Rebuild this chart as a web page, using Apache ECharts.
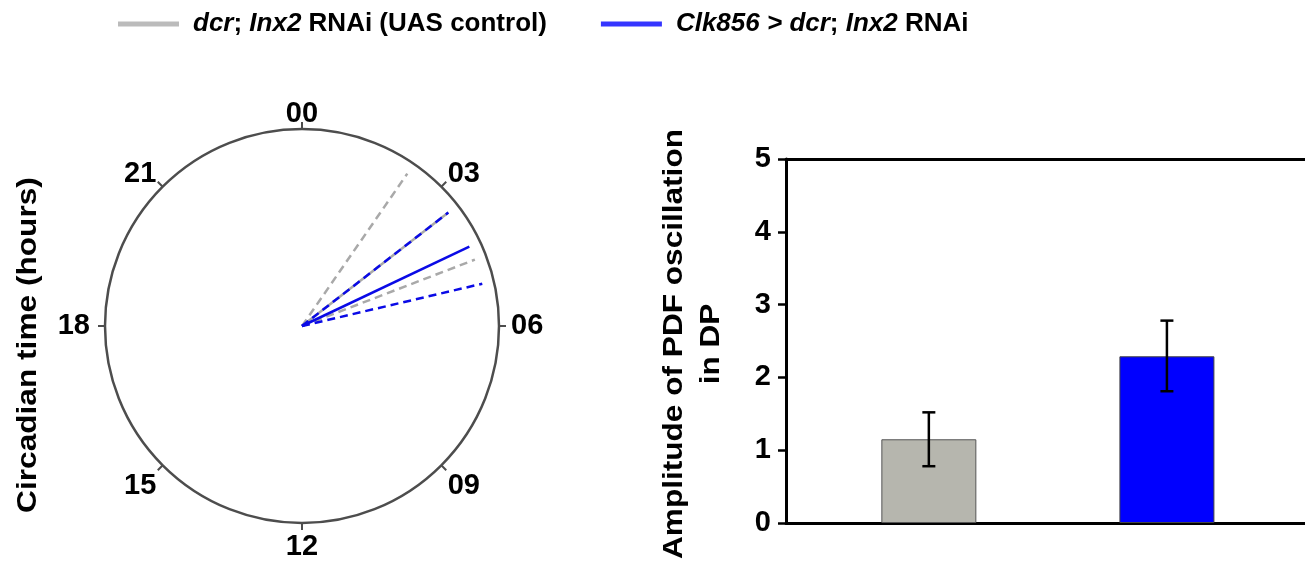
<!DOCTYPE html>
<html>
<head>
<meta charset="utf-8">
<script src="https://cdn.jsdelivr.net/npm/echarts@6/dist/echarts.min.js"></script>
<style>
html, body { margin: 0; padding: 0; background: #fff; }
#main { width: 1305px; height: 564px; }
</style>
</head>
<body>
<div id="main"></div>
<script>
var myChart = echarts.init(document.getElementById('main'));

// circadian phases (hours), left panel
var ctrlPhase = 3.48;
var ctrlBounds = [2.31, 4.6];
var expPhase = 4.31;
var expBounds = [3.48, 5.12];
var vecLength = 0.94;

// amplitude, right panel
var groupNames = ['dcr; Inx2 RNAi (UAS control)', 'Clk856 > dcr; Inx2 RNAi'];
var groupX = [1, 2];
var amplitude = [1.15, 2.29];
var ampLow = [0.78, 1.81];
var ampHigh = [1.52, 2.78];

var fontFam = '"Liberation Sans", Arial, sans-serif';
var hourFont = { fontSize: 29, fontWeight: 'bold', color: '#000', fontFamily: fontFam };

function vec(name, phase, color, dashed) {
    return {
        name: name,
        type: 'line',
        coordinateSystem: 'polar',
        polarIndex: 0,
        symbol: 'none',
        silent: true,
        data: [[0, phase], [vecLength, phase]],
        lineStyle: {
            color: color,
            width: 2.5,
            type: dashed ? [8, 5] : 'solid'
        }
    };
}

option = {
    backgroundColor: '#fff',
    animation: false,
    textStyle: { fontFamily: fontFam },
    legend: {
        left: 113,
        top: 6,
        itemWidth: 61,
        itemHeight: 5,
        itemGap: 54,
        icon: 'rect',
        data: [
            { name: groupNames[0], itemStyle: { color: '#bbbbbb', borderWidth: 0 } },
            { name: groupNames[1], itemStyle: { color: '#3535ff', borderWidth: 0 } }
        ],
        formatter: function (name) {
            if (name === groupNames[0]) {
                return '{i|dcr}{n|; }{i|Inx2}{n| RNAi (UAS control)}';
            }
            return '{i|Clk856 > dcr}{n|; }{i|Inx2}{n| RNAi}';
        },
        textStyle: {
            padding: [0, 0, 0, 9],
            rich: {
                i: { fontSize: 26, fontWeight: 'bold', fontStyle: 'italic', color: '#000', fontFamily: fontFam },
                n: { fontSize: 26, fontWeight: 'bold', color: '#000', fontFamily: fontFam }
            }
        }
    },
    polar: {
        center: [302, 326],
        radius: 197
    },
    angleAxis: {
        type: 'value',
        min: 0,
        max: 24,
        interval: 3,
        startAngle: 90,
        clockwise: true,
        axisLine: { lineStyle: { color: '#4d4d4d', width: 2.5 } },
        axisTick: { show: true, length: 7, lineStyle: { color: '#4d4d4d', width: 2 } },
        splitLine: { show: false },
        axisLabel: {
            margin: 9,
            color: '#000',
            formatter: function (v) {
                if (v >= 24) return '';
                var s = (v < 10 ? '0' : '') + v;
                if (v === 21 || v === 0 || v === 3) return '{top|' + s + '}';
                if (v === 18) return '{left|' + s + '}';
                if (v === 6) return '{right|' + s + '}';
                return '{h|' + s + '}';
            },
            rich: {
                h: hourFont,
                top: Object.assign({ lineHeight: 12 }, hourFont),
                left: Object.assign({ padding: [0, 6, 0, 0] }, hourFont),
                right: Object.assign({ padding: [0, 0, 0, 3] }, hourFont)
            }
        }
    },
    radiusAxis: {
        min: 0,
        max: 1,
        show: false
    },
    grid: {
        left: 786,
        right: 0,
        top: 159,
        bottom: 41
    },
    xAxis: [{
        type: 'value',
        min: 0.4,
        max: 2.58,
        axisLine: { show: true, onZero: false, lineStyle: { color: '#000', width: 3 } },
        axisTick: { show: false },
        axisLabel: { show: false },
        splitLine: { show: false }
    }, {
        type: 'value',
        position: 'top',
        min: 0.4,
        max: 2.58,
        axisLine: { show: true, onZero: false, lineStyle: { color: '#000', width: 3 } },
        axisTick: { show: false },
        axisLabel: { show: false },
        splitLine: { show: false }
    }],
    yAxis: {
        type: 'value',
        min: 0,
        max: 5,
        interval: 1,
        axisLine: { show: true, lineStyle: { color: '#000', width: 3 } },
        axisTick: { show: true, length: 8, lineStyle: { color: '#000', width: 2.5 } },
        splitLine: { show: false },
        axisLabel: {
            margin: 15,
            fontSize: 29,
            fontWeight: 'bold',
            color: '#000'
        }
    },
    graphic: [{
        type: 'text',
        x: 28,
        y: 345,
        rotation: Math.PI / 2,
        scaleX: 1.13,
        style: {
            text: 'Circadian time (hours)',
            font: 'bold 28px ' + fontFam,
            fill: '#000',
            align: 'center',
            verticalAlign: 'middle'
        }
    }, {
        type: 'text',
        x: 693,
        y: 344,
        rotation: Math.PI / 2,
        scaleX: 1.17,
        style: {
            text: 'Amplitude of PDF oscillation\nin DP',
            font: 'bold 27px ' + fontFam,
            lineHeight: 37,
            fill: '#000',
            align: 'center',
            verticalAlign: 'middle'
        }
    }],
    series: [
        vec('ctrl-mean', ctrlPhase, '#a9a9a9', false),
        vec('ctrl-lo', ctrlBounds[0], '#a9a9a9', true),
        vec('ctrl-hi', ctrlBounds[1], '#a9a9a9', true),
        vec('exp-mean', expPhase, '#0a0ae6', false),
        vec('exp-lo', expBounds[0], '#0a0ae6', true),
        vec('exp-hi', expBounds[1], '#0a0ae6', true),
        {
            name: groupNames[0],
            type: 'bar',
            xAxisIndex: 0,
            barWidth: 95,
            barGap: '-100%',
            data: [[groupX[0], amplitude[0]]],
            itemStyle: { color: '#b6b6ae', borderColor: '#555', borderWidth: 1 }
        },
        {
            name: groupNames[1],
            type: 'bar',
            xAxisIndex: 0,
            barWidth: 95,
            barGap: '-100%',
            data: [[groupX[1], amplitude[1]]],
            itemStyle: { color: '#0000ff', borderColor: '#444', borderWidth: 1 }
        },
        {
            name: 'sem',
            type: 'custom',
            xAxisIndex: 0,
            silent: true,
            z: 10,
            data: groupX.map(function (x, i) { return [x, ampLow[i], ampHigh[i]]; }),
            encode: { x: 0, y: [1, 2] },
            renderItem: function (params, api) {
                var lo = api.coord([api.value(0), api.value(1)]);
                var hi = api.coord([api.value(0), api.value(2)]);
                var cap = 6.5;
                var st = { stroke: '#000', lineWidth: 2.5 };
                return {
                    type: 'group',
                    children: [
                        { type: 'line', shape: { x1: lo[0], y1: lo[1], x2: hi[0], y2: hi[1] }, style: st },
                        { type: 'line', shape: { x1: lo[0] - cap, y1: lo[1], x2: lo[0] + cap, y2: lo[1] }, style: st },
                        { type: 'line', shape: { x1: hi[0] - cap, y1: hi[1], x2: hi[0] + cap, y2: hi[1] }, style: st }
                    ]
                };
            }
        }
    ]
};
myChart.setOption(option);
</script>
</body>
</html>
